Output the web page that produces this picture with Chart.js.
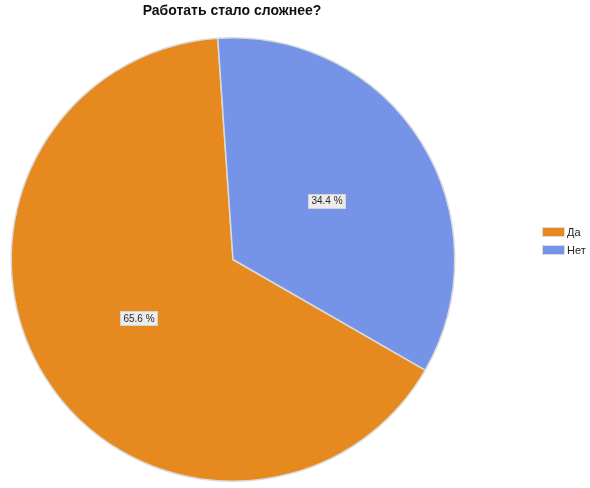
<!DOCTYPE html>
<html><head><meta charset="utf-8">
<script src="https://cdn.jsdelivr.net/npm/chart.js@4"></script>
<style>html,body{margin:0;padding:0;background:#fff;}#wrap{width:590px;height:488px;position:relative;}</style>
</head><body><div id="wrap"><canvas id="c" width="590" height="488"></canvas></div>
<script>
const chartTitle = "Работать стало сложнее?";
const categories = ["Да", "Нет"];
const values = [65.6, 34.4];
const colors = ["#E68A1F", "#7594E8"];

const labelPlugin = {
  id: 'sliceLabels',
  afterDatasetsDraw(chart) {
    const ctx = chart.ctx;
    const meta = chart.getDatasetMeta(0);
    ctx.save();
    ctx.font = '10px "Liberation Sans", Arial, sans-serif';
    ctx.textAlign = 'center';
    ctx.textBaseline = 'middle';
    meta.data.forEach((arc, i) => {
      const p = arc.tooltipPosition();
      const txt = values[i].toFixed(1) + ' %';
      const w = ctx.measureText(txt).width + 6;
      const h = 14;
      ctx.fillStyle = '#ececec';
      ctx.fillRect(Math.round(p.x - w / 2) + 0.5, Math.round(p.y - h / 2) + 0.5, Math.round(w), h);
      ctx.strokeStyle = '#d4d4d4';
      ctx.lineWidth = 1;
      ctx.strokeRect(Math.round(p.x - w / 2) + 0.5, Math.round(p.y - h / 2) + 0.5, Math.round(w), h);
      ctx.fillStyle = '#2a2a2a';
      ctx.fillText(txt, p.x, p.y + 0.5);
    });
    ctx.restore();
  }
};

const titleLegendPlugin = {
  id: 'titleLegend',
  afterDraw(chart) {
    const ctx = chart.ctx;
    ctx.save();
    ctx.font = 'bold 14px "Liberation Sans", Arial, sans-serif';
    ctx.fillStyle = '#111';
    ctx.textAlign = 'center';
    ctx.textBaseline = 'middle';
    ctx.fillText(chartTitle, 232, 11);
    ctx.font = '11px "Liberation Sans", Arial, sans-serif';
    ctx.textAlign = 'left';
    categories.forEach((c, i) => {
      const y = 228 + i * 18;
      ctx.fillStyle = colors[i];
      ctx.fillRect(543, y, 21, 8);
      ctx.strokeStyle = '#dcdcdc';
      ctx.lineWidth = 1;
      ctx.strokeRect(542.5, y - 0.5, 22, 9);
      ctx.fillStyle = '#222';
      ctx.fillText(c, 567, y + 4.5);
    });
    ctx.restore();
  }
};

new Chart(document.getElementById('c'), {
  type: 'pie',
  data: {
    labels: categories,
    datasets: [{
      data: values,
      backgroundColor: colors,
      borderColor: '#dadada',
      borderWidth: 1.5,
      hoverOffset: 0
    }]
  },
  options: {
    responsive: false,
    animation: false,
    rotation: 119.9,
    layout: { padding: { top: 37, bottom: 6, left: 10, right: 134 } },
    plugins: {
      legend: { display: false },
      title: { display: false },
      tooltip: { enabled: false }
    }
  },
  plugins: [labelPlugin, titleLegendPlugin]
});
</script>
</body></html>
